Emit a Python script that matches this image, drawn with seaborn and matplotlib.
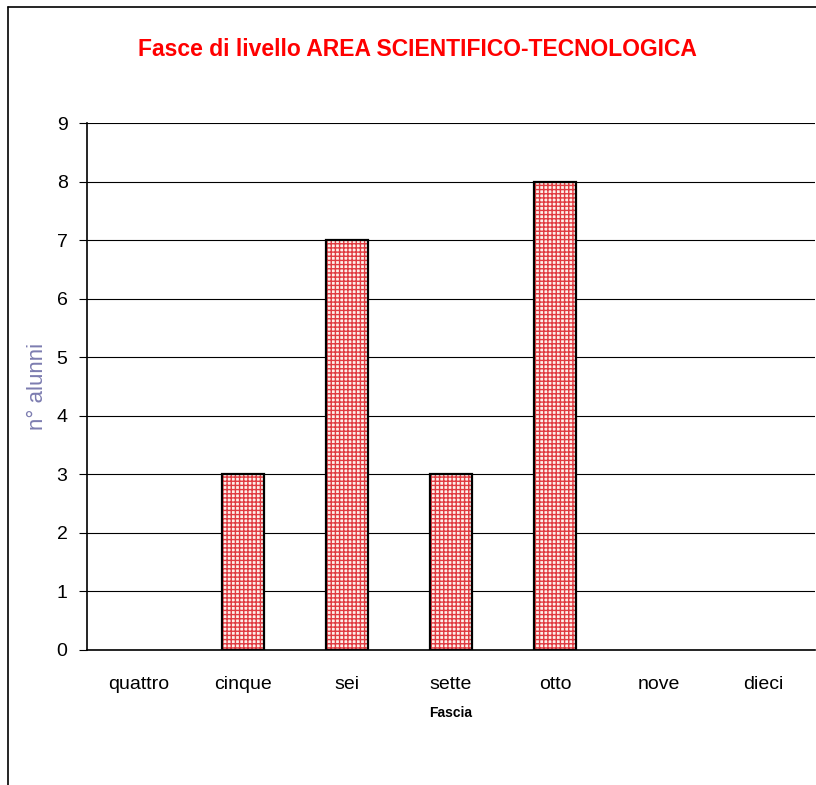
import matplotlib
matplotlib.use("Agg")
import matplotlib.pyplot as plt
import seaborn as sns
import numpy as np
import pandas as pd
from matplotlib.patches import Rectangle
from matplotlib.lines import Line2D

# dati
fasce = ["quattro", "cinque", "sei", "sette", "otto", "nove", "dieci"]
alunni = [0, 3, 7, 3, 8, 0, 0]
y_ticks = [0, 1, 2, 3, 4, 5, 6, 7, 8, 9]

df = pd.DataFrame({"Fascia": fasce, "n": alunni})

sns.set_style("white")
plt.rcParams["font.family"] = ["Liberation Sans", "DejaVu Sans"]
plt.rcParams["hatch.linewidth"] = 1.0
plt.rcParams["text.color"] = "black"
plt.rcParams["xtick.color"] = "black"
plt.rcParams["ytick.color"] = "black"
plt.rcParams["axes.labelcolor"] = "black"

fig = plt.figure(figsize=(8.16, 7.85), dpi=100)
ax = fig.add_axes([0.1066, 0.172, 0.892, 0.6713])

# riempimento a griglia rossa
sns.barplot(data=df, x="Fascia", y="n", ax=ax, color="white", width=0.4,
            edgecolor="#e03a40", linewidth=0)
for p in ax.patches:
    if p.get_height() == 0:
        p.set_visible(False)
        continue
    p.set_hatch("++++")
    p.set_facecolor("#fdf0ea")
    # bordo nero sopra
    ax.add_patch(Rectangle((p.get_x(), p.get_y()), p.get_width(), p.get_height(),
                           facecolor="none", edgecolor="black", lw=1.6, zorder=3))

ax.set_ylim(0, 9)
ax.set_xlim(-0.5, len(fasce) - 0.5)
ax.set_yticks(y_ticks)
ax.yaxis.grid(True, color="black", lw=0.8)
ax.set_axisbelow(True)

ax.set_xticks(np.arange(len(fasce)))
ax.set_xticklabels(fasce, fontsize=14)
ax.set_xticks(np.arange(-0.5, len(fasce)), minor=True)
ax.tick_params(axis="x", which="major", length=0, pad=19)
ax.tick_params(axis="x", which="minor", length=6, width=0.8, color="black", direction="out")
ax.tick_params(axis="y", length=6, width=0.8, color="black", direction="out",
               labelsize=14, pad=8, left=True)

for s in ["top", "right"]:
    ax.spines[s].set_visible(False)
for s in ["left", "bottom"]:
    ax.spines[s].set_color("black")
    ax.spines[s].set_linewidth(1.2)

ax.set_xlabel("Fascia", fontsize=10, fontweight="bold", labelpad=9)
ax.set_ylabel("n° alunni", fontsize=16, color="#7c7cb0", labelpad=6)

fig.text(0.512, 0.937, "Fasce di livello AREA SCIENTIFICO-TECNOLOGICA",
         ha="center", va="center", color="#ff0000", fontsize=16.5, fontweight="bold")

# cornice del grafico
fig.add_artist(Line2D([8 / 816, 8 / 816], [0, 1 - 7 / 785], color="black", lw=1.2))
fig.add_artist(Line2D([8 / 816, 1], [1 - 7 / 785, 1 - 7 / 785], color="black", lw=1.2))

fig.savefig("out.png", dpi=100, facecolor="white")
